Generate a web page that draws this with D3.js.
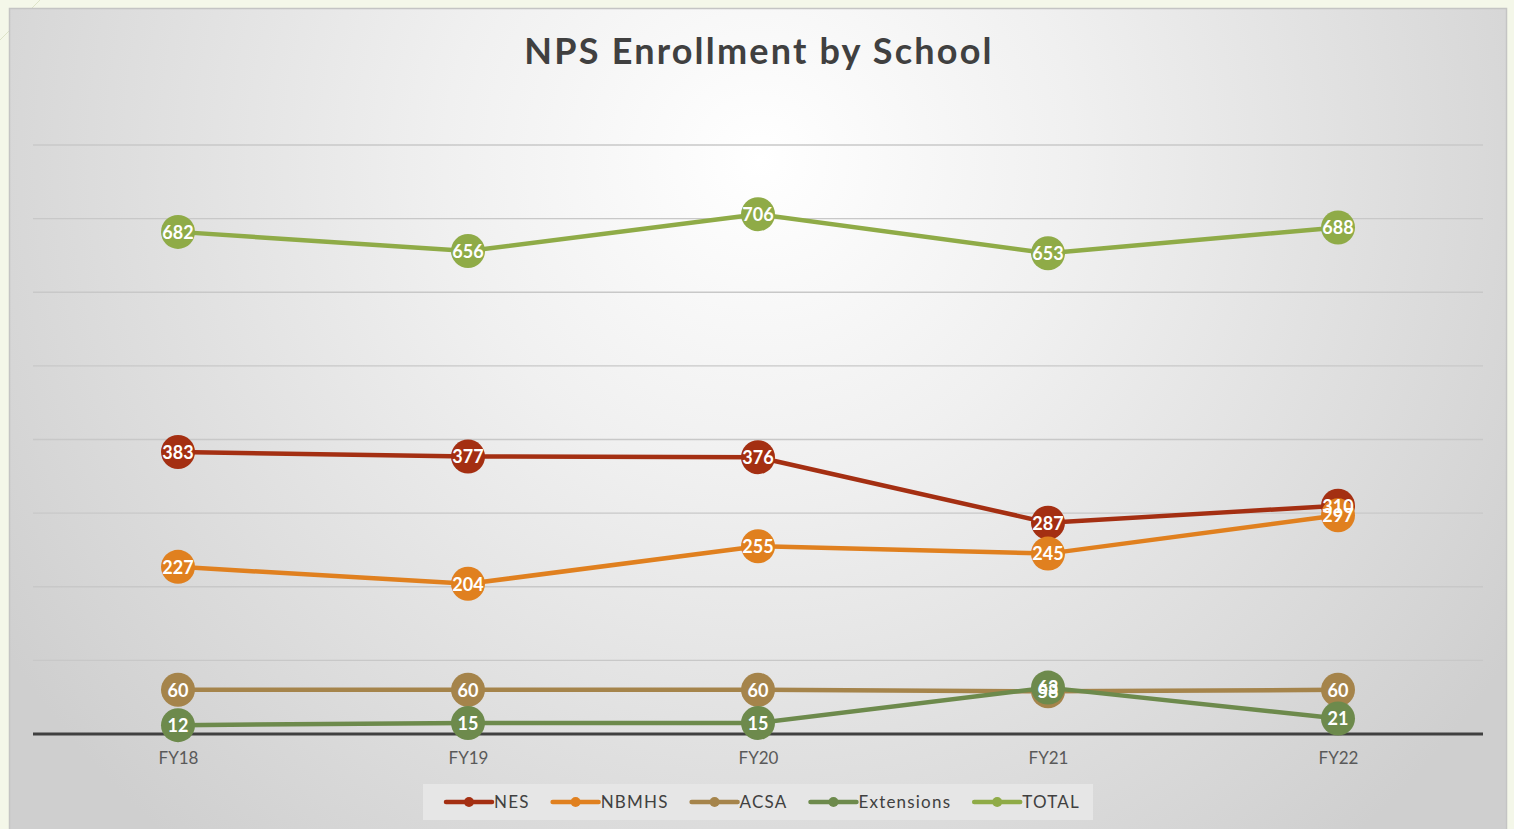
<!DOCTYPE html>
<html>
<head>
<meta charset="utf-8">
<script src="https://cdn.jsdelivr.net/npm/d3@7"></script>
<style>
  html, body { margin: 0; padding: 0; background: #f4f7e9; overflow: hidden; }
  svg { display: block; }
</style>
</head>
<body>
<div id="chart"></div>
<script>
var years = ["FY18", "FY19", "FY20", "FY21", "FY22"];
var nes = [383, 377, 376, 287, 310];
var nbmhs = [227, 204, 255, 245, 297];
var acsa = [60, 60, 60, 58, 60];
var extensions = [12, 15, 15, 63, 21];
var total = [682, 656, 706, 653, 688];
var yTicks = [0, 100, 200, 300, 400, 500, 600, 700, 800];

var series = [
  { name: "NES", values: nes, color: "#a42f12" },
  { name: "NBMHS", values: nbmhs, color: "#e0801f" },
  { name: "ACSA", values: acsa, color: "#a5844b" },
  { name: "Extensions", values: extensions, color: "#6d8a4c" },
  { name: "TOTAL", values: total, color: "#8fab47" }
];

var W = 1514, H = 829;
var margin = { top: 145, right: 31, bottom: 95, left: 33 },
    width = W - margin.left - margin.right,
    height = H - margin.top - margin.bottom;

var font = "'Lato', 'Noto Sans', sans-serif";

var svg = d3.select("#chart").append("svg")
    .attr("width", W)
    .attr("height", H);

// background panel
var defs = svg.append("defs");
var grad = defs.append("radialGradient")
    .attr("id", "bg")
    .attr("gradientUnits", "userSpaceOnUse")
    .attr("cx", 760).attr("cy", 160).attr("r", 900);
grad.append("stop").attr("offset", "0%").attr("stop-color", "#ffffff");
grad.append("stop").attr("offset", "35%").attr("stop-color", "#f0f0f0");
grad.append("stop").attr("offset", "100%").attr("stop-color", "#cfcfcf");

svg.append("line")
    .attr("x1", 0).attr("y1", 40).attr("x2", 40).attr("y2", 0)
    .attr("stroke", "#dde3c8").attr("stroke-width", 1);

svg.append("rect")
    .attr("x", 9.5).attr("y", 8.5)
    .attr("width", 1497).attr("height", 840)
    .attr("fill", "url(#bg)")
    .attr("stroke", "#c4c4c4")
    .attr("stroke-width", 1.5);

// title
svg.append("text")
    .attr("x", 759)
    .attr("y", 64)
    .attr("text-anchor", "middle")
    .style("font-family", font)
    .style("font-weight", "bold")
    .style("font-size", "36px")
    .style("letter-spacing", "2.2px")
    .attr("fill", "#404040")
    .text("NPS Enrollment by School");

var g = svg.append("g")
    .attr("transform", "translate(" + margin.left + "," + margin.top + ")");

var xscale = d3.scalePoint().domain(years).range([0, width]).padding(0.5);
var yscale = d3.scaleLinear().domain([0, 800]).range([height, 0]);

// gridlines
g.append("g")
    .selectAll("line")
    .data(yTicks.filter(function (d) { return d > 0; }))
    .enter().append("line")
    .attr("x1", 0).attr("x2", width)
    .attr("y1", function (d) { return yscale(d); })
    .attr("y2", function (d) { return yscale(d); })
    .attr("stroke", "#c8c8c8")
    .attr("stroke-width", 1.3);

// x axis
var xAxis = g.append("g")
    .attr("transform", "translate(0," + height + ")")
    .call(d3.axisBottom(xscale).tickSize(0).tickPadding(18));
xAxis.select(".domain")
    .attr("d", "M0,0H" + width)
    .attr("stroke", "#404040")
    .attr("stroke-width", 3);
xAxis.selectAll("text")
    .style("font-family", font)
    .style("font-size", "17px")
    .attr("fill", "#595959");

var line = d3.line()
    .x(function (d, i) { return xscale(years[i]); })
    .y(function (d) { return yscale(d); });

series.forEach(function (s) {
  g.append("path")
      .datum(s.values)
      .attr("fill", "none")
      .attr("stroke", s.color)
      .attr("stroke-width", 4.5)
      .attr("stroke-linejoin", "round")
      .attr("d", line);

  g.selectAll(".dot-" + s.name)
      .data(s.values)
      .enter().append("circle")
      .attr("cx", function (d, i) { return xscale(years[i]); })
      .attr("cy", function (d) { return yscale(d); })
      .attr("r", 17)
      .attr("fill", s.color);
});

// data labels on top
series.forEach(function (s) {
  g.selectAll(".lbl-" + s.name)
      .data(s.values)
      .enter().append("text")
      .attr("x", function (d, i) { return xscale(years[i]); })
      .attr("y", function (d) { return yscale(d); })
      .attr("dy", "0.38em")
      .attr("text-anchor", "middle")
      .style("font-family", font)
      .style("font-weight", "bold")
      .style("font-size", "18px")
      .attr("fill", "#ffffff")
      .text(function (d) { return d; });
});

// legend
var legend = svg.append("g");
legend.append("rect")
    .attr("x", 423).attr("y", 784)
    .attr("width", 670).attr("height", 36)
    .attr("fill", "#e6e6e6");

var lx = 446;
series.forEach(function (s) {
  var item = legend.append("g").attr("transform", "translate(" + lx + ",802)");
  item.append("line")
      .attr("x1", 0).attr("x2", 46)
      .attr("stroke", s.color)
      .attr("stroke-width", 4.5)
      .attr("stroke-linecap", "round");
  item.append("circle")
      .attr("cx", 23).attr("r", 5)
      .attr("fill", s.color);
  var t = item.append("text")
      .attr("x", 48)
      .attr("dy", "0.36em")
      .style("font-family", font)
      .style("font-size", "17px")
      .style("letter-spacing", "1.2px")
      .attr("fill", "#404040")
      .text(s.name);
  lx += 48 + t.node().getComputedTextLength() + 23;
});
</script>
</body>
</html>
